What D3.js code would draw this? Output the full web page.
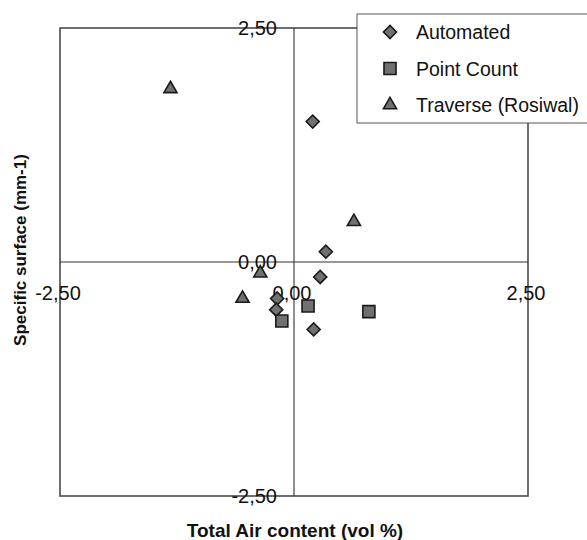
<!DOCTYPE html>
<html>
<head>
<meta charset="utf-8">
<script src="https://cdn.jsdelivr.net/npm/d3@7"></script>
<style>
  body { margin: 0; background: #fff; }
  svg { display: block; font-family: "Liberation Sans", Arial, sans-serif; }
</style>
</head>
<body>
<svg id="chart"></svg>
<script>
// data
const seriesNames = ["Automated", "Point Count", "Traverse (Rosiwal)"];
const automatedX = [0.20, 0.34, 0.28, -0.18, -0.19, 0.21];
const automatedY = [1.50, 0.11, -0.16, -0.39, -0.51, -0.72];
const pointCountX = [0.15, -0.13, 0.80];
const pointCountY = [-0.47, -0.63, -0.53];
const traverseX = [-1.32, 0.64, -0.36, -0.55];
const traverseY = [1.85, 0.43, -0.12, -0.39];
const tickValues = [-2.5, 0, 2.5];

const width = 587, height = 540;
const margin = { left: 60, right: 59, top: 28, bottom: 44 };

const svg = d3.select("#chart")
    .attr("width", width)
    .attr("height", height);

const x = d3.scaleLinear().domain([-2.5, 2.5]).range([margin.left, width - margin.right]);
const y = d3.scaleLinear().domain([-2.5, 2.5]).range([height - margin.bottom, margin.top]);

// decimal comma, like the original
const fmt = d3.formatLocale({ decimal: ",", thousands: ".", grouping: [3], currency: ["", ""], minus: "-" }).format(".2f");

// diamond = square turned 45 degrees
const symbols = [d3.symbolSquare, d3.symbolSquare, d3.symbolTriangle];
const sizes = [85, 145, 75];
const rotations = [45, 0, 0];
const series = [
    d3.zip(automatedX, automatedY),
    d3.zip(pointCountX, pointCountY),
    d3.zip(traverseX, traverseY)
];

// plot frame
svg.append("rect")
    .attr("x", x(-2.5))
    .attr("y", y(2.5))
    .attr("width", x(2.5) - x(-2.5))
    .attr("height", y(-2.5) - y(2.5))
    .attr("fill", "none")
    .attr("stroke", "#4a4a4a")
    .attr("stroke-width", 1.6);

// zero axes
svg.append("line")
    .attr("x1", x(0)).attr("x2", x(0))
    .attr("y1", y(2.5)).attr("y2", y(-2.5))
    .attr("stroke", "#333").attr("stroke-width", 1.1);
svg.append("line")
    .attr("x1", x(-2.5)).attr("x2", x(2.5))
    .attr("y1", y(0)).attr("y2", y(0))
    .attr("stroke", "#333").attr("stroke-width", 1.1);

// y tick labels, left of the vertical axis
svg.append("g").selectAll("text")
    .data(tickValues)
    .enter().append("text")
    .attr("x", x(0) - 17)
    .attr("y", d => y(d))
    .attr("dy", "0.36em")
    .attr("text-anchor", "end")
    .style("font-size", "20px")
    .attr("fill", "#111")
    .text(d => fmt(d));

// x tick labels under the horizontal axis
svg.append("g").selectAll("text")
    .data(tickValues)
    .enter().append("text")
    .attr("x", d => x(d) - 2)
    .attr("y", y(0) + 31)
    .attr("dy", "0.36em")
    .attr("text-anchor", "middle")
    .style("font-size", "20px")
    .attr("fill", "#111")
    .text(d => fmt(d));

// axis titles
svg.append("text")
    .attr("x", 295)
    .attr("y", height - 10)
    .attr("dy", "0.36em")
    .attr("text-anchor", "middle")
    .style("font-size", "19px")
    .style("font-weight", "bold")
    .attr("fill", "#111")
    .text("Total Air content (vol %)");

svg.append("text")
    .attr("transform", `translate(20,${y(0) - 12}) rotate(-90)`)
    .attr("dy", "0.36em")
    .attr("text-anchor", "middle")
    .style("font-size", "17px")
    .style("font-weight", "bold")
    .attr("fill", "#111")
    .text("Specific surface (mm-1)");

// points
series.forEach((pts, i) => {
    svg.append("g").selectAll("path")
        .data(pts)
        .enter().append("path")
        .attr("transform", d => `translate(${x(d[0])},${y(d[1])}) rotate(${rotations[i]})`)
        .attr("d", d3.symbol().type(symbols[i]).size(sizes[i]))
        .attr("fill", "#707070")
        .attr("stroke", "#1a1a1a")
        .attr("stroke-width", 1.6);
});

// legend, drawn over the frame
const legend = svg.append("g").attr("transform", "translate(357,14)");
legend.append("rect")
    .attr("width", 240)
    .attr("height", 109)
    .attr("fill", "#fff")
    .attr("stroke", "#555")
    .attr("stroke-width", 1);

const item = legend.selectAll("g")
    .data(seriesNames)
    .enter().append("g")
    .attr("transform", (d, i) => `translate(33,${18 + i * 36.5})`);

item.append("path")
    .attr("transform", (d, i) => `rotate(${rotations[i]})`)
    .attr("d", (d, i) => d3.symbol().type(symbols[i]).size(sizes[i])())
    .attr("fill", "#707070")
    .attr("stroke", "#1a1a1a")
    .attr("stroke-width", 1.6);

item.append("text")
    .attr("x", 26)
    .attr("dy", "0.36em")
    .style("font-size", "19.5px")
    .attr("fill", "#111")
    .text(d => d);
</script>
</body>
</html>
